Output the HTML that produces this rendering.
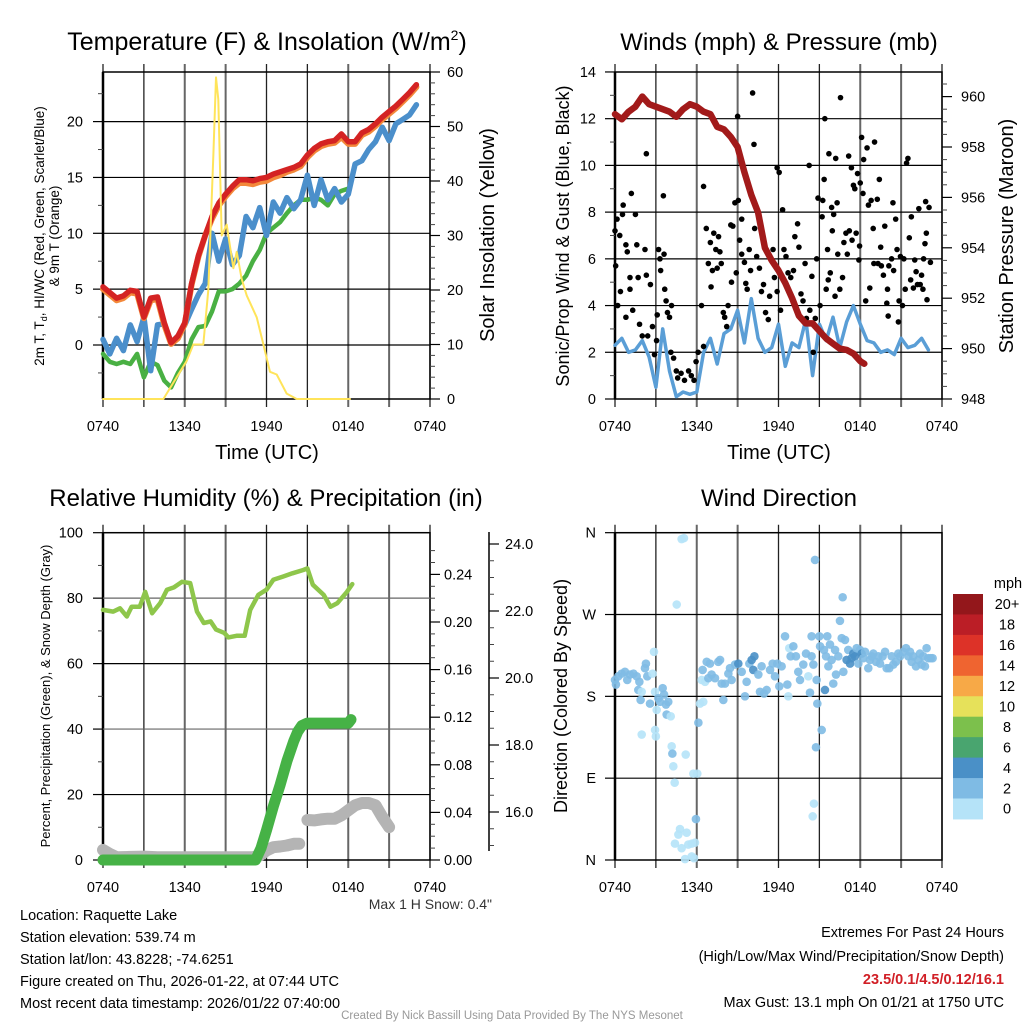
<!DOCTYPE html>
<html><head><meta charset="utf-8"><style>
html,body{margin:0;padding:0;background:#fff;}
svg{display:block;font-family:"Liberation Sans",sans-serif;}
</style></head><body>
<svg id="chart" width="1024" height="1024" viewBox="0 0 1024 1024">
<rect x="0" y="0" width="1024" height="1024" fill="#fff"/>
<text x="267" y="50" font-size="25" text-anchor="middle">Temperature (F) &amp; Insolation (W/m<tspan font-size="14" dy="-10">2</tspan><tspan dy="10">)</tspan></text>
<text x="779" y="50" font-size="24" text-anchor="middle">Winds (mph) &amp; Pressure (mb)</text>
<text x="266" y="506" font-size="24" text-anchor="middle">Relative Humidity (%) &amp; Precipitation (in)</text>
<text x="779" y="506" font-size="24" text-anchor="middle">Wind Direction</text>
<text x="267" y="459" font-size="20" text-anchor="middle">Time (UTC)</text>
<text x="779" y="459" font-size="20" text-anchor="middle">Time (UTC)</text>
<text transform="translate(44,236) rotate(-90)" font-size="13.5" text-anchor="middle">2m T, T<tspan font-size="9" dy="3">d</tspan><tspan dy="-3">, HI/WC (Red, Green, Scarlet/Blue)</tspan></text>
<text transform="translate(59,236) rotate(-90)" font-size="13.5" text-anchor="middle">&amp; 9m T (Orange)</text>
<text transform="translate(494,235) rotate(-90)" font-size="20" text-anchor="middle">Solar Insolation (Yellow)</text>
<text transform="translate(569,236) rotate(-90)" font-size="18" text-anchor="middle">Sonic/Prop Wind &amp; Gust (Blue, Black)</text>
<text transform="translate(1013,236) rotate(-90)" font-size="20" text-anchor="middle">Station Pressure (Maroon)</text>
<text transform="translate(50,696) rotate(-90)" font-size="13" text-anchor="middle">Percent, Precipitation (Green), &amp; Snow Depth (Gray)</text>
<text transform="translate(567,696) rotate(-90)" font-size="18" text-anchor="middle">Direction (Colored By Speed)</text>
<text x="492" y="909" font-size="14" text-anchor="end" fill="#333">Max 1 H Snow: 0.4"</text>
<g font-size="14.5">
<text x="20" y="920">Location: Raquette Lake</text>
<text x="20" y="942">Station elevation: 539.74 m</text>
<text x="20" y="964">Station lat/lon: 43.8228; -74.6251</text>
<text x="20" y="986">Figure created on Thu, 2026-01-22, at 07:44 UTC</text>
<text x="20" y="1008">Most recent data timestamp: 2026/01/22 07:40:00</text>
</g>
<g font-size="14.5" text-anchor="end">
<text x="1004" y="937">Extremes For Past 24 Hours</text>
<text x="1004" y="961">(High/Low/Max Wind/Precipitation/Snow Depth)</text>
<text x="1004" y="984" fill="#d11f26" font-weight="bold">23.5/0.1/4.5/0.12/16.1</text>
<text x="1004" y="1007">Max Gust: 13.1 mph On 01/21 at 1750 UTC</text>
</g>
<text x="512" y="1019" font-size="11.5" text-anchor="middle" fill="#999">Created By Nick Bassill Using Data Provided By The NYS Mesonet</text>
</svg>
<script>
// ---------- data ----------
const timeTickHours = [0, 6, 12, 18, 24];
const timeTickLabels = ['0740', '1340', '1940', '0140', '0740'];
const gridHours = [0, 3, 6, 9, 12, 15, 18, 21, 24];
const halfHours = [0,0.5,1,1.5,2,2.5,3,3.5,4,4.5,5,5.5,6,6.5,7,7.5,8,8.5,9,9.5,10,10.5,11,11.5,12,12.5,13,13.5,14,14.5,15,15.5,16,16.5,17,17.5,18,18.5,19,19.5,20,20.5,21,21.5,22,22.5,23];
const tempRed = [5.2,4.7,4.2,4.4,4.9,4.8,2.5,4.2,4.3,2.0,0.2,0.8,2.0,5.5,8.0,9.8,11.5,12.7,13.5,14.2,14.8,14.8,14.7,14.9,15.0,15.3,15.5,15.7,15.9,16.2,17.0,17.6,18.0,18.2,18.3,18.9,18.2,18.2,19.0,19.3,19.8,20.4,20.9,21.4,22.0,22.6,23.3];
const temp9mOrange = [5.0,4.5,4.0,4.2,4.7,4.6,2.4,4.0,4.1,1.8,0.1,0.6,1.9,5.4,7.9,9.8,11.3,12.5,13.3,14.0,14.5,14.5,14.4,14.6,14.7,15.0,15.2,15.5,15.7,16.0,16.8,17.4,17.8,18.0,18.1,18.6,18.0,18.0,18.8,19.1,19.6,20.2,20.7,21.2,21.8,22.4,23.1];
const windChillBlue = [0.5,-0.8,0.6,-0.5,1.8,0.3,2.5,-2.3,1.8,1.9,0.2,0.8,1.8,3.2,4.5,5.5,10.0,7.5,9.5,7.2,8.0,11.5,10.5,12.3,9.8,12.8,11.8,13.2,12.2,13.0,15.2,12.5,14.8,13.0,14.0,12.8,13.5,16.2,16.5,17.5,18.2,19.5,18.3,19.8,20.2,20.6,21.5];
const dewGreen = [-0.8,-1.5,-1.7,-1.5,-1.7,-0.8,-2.9,-1.5,-1.8,-3.2,-3.8,-2.5,-1.5,0.5,1.6,1.7,3.0,4.8,4.8,5.0,5.5,6.2,7.5,8.5,10.0,10.5,11.0,11.8,12.5,13.0,13.0,13.2,13.0,12.5,13.5,13.8,14.0,null,null,null,null,null,null,null,null,null,null];
const solarHours = [0,4.43,4.92,5.65,6.14,6.63,7.36,7.73,8.10,8.29,8.46,8.71,9.08,9.32,9.57,9.81,10.18,10.55,11.28,11.77,12.26,12.75,13.48,14.22,18.13];
const solarVals = [0,0,2,5,7,10,10,20,45,59,55,30,32,28,24,27,22,19,15,10,5,4.5,1,0,0];

const pressureHours = [0,0.5,1,1.5,2,2.5,3,3.5,4,4.5,5,5.5,6,6.5,7,7.5,8,8.5,9,9.5,10,10.5,11,11.5,12,12.5,13,13.5,14,14.5,15,15.5,16,16.5,17,17.5,18,18.3];
const pressureVals = [959.3,959.1,959.4,959.6,960.0,959.7,959.6,959.5,959.4,959.2,959.5,959.7,959.6,959.4,959.3,958.8,958.7,958.4,958.0,957.0,956.1,955.4,954.0,953.5,953.1,952.6,952.0,951.3,951.0,951.0,950.7,950.4,950.2,950.0,949.95,949.8,949.5,949.4];
const windVals = [2.3,2.6,2.0,2.1,2.5,1.8,0.5,3.0,1.2,0.1,0.3,0.2,0.3,2.0,2.6,1.5,2.8,3.0,3.8,2.4,4.3,2.6,2.0,2.2,3.2,1.4,2.4,2.2,3.4,1.0,3.2,2.5,3.5,2.2,3.3,4.0,3.2,2.5,2.4,2.0,2.1,1.9,2.6,2.2,2.3,2.6,2.1];
const gustHours = [0,0.05,0.15,0.2,0.35,0.4,0.6,0.55,0.8,0.9,0.8,1.2,1.1,1.1,1.3,1.5,1.6,1.7,1.8,2.0,2.2,2.3,2.3,2.4,2.6,2.75,2.9,3.05,3.1,3.2,3.3,3.35,3.55,3.6,3.65,3.75,3.85,4.0,4.15,4.1,4.3,4.5,4.6,4.85,5.1,5.4,5.6,5.8,5.95,6.1,6.35,6.5,6.5,6.7,6.85,7.0,7.05,7.15,7.25,7.4,7.5,7.6,7.7,7.8,7.95,8.05,8.2,8.3,8.5,8.55,8.65,8.8,8.9,9.0,9.05,9.15,9.3,9.3,9.5,9.6,9.7,9.85,9.95,10.1,10.2,10.25,10.4,10.6,10.75,10.9,11.05,11.25,11.35,11.6,11.7,11.9,12.05,11.9,12.15,12.3,12.4,12.55,12.7,12.9,13.1,13.2,13.4,13.5,13.65,13.8,13.95,14.05,14.25,14.3,14.45,14.55,14.7,14.8,14.9,15.05,15.2,15.25,15.35,15.4,15.5,15.6,15.65,15.7,15.8,15.9,15.95,16.05,16.15,16.2,16.3,16.35,16.5,16.55,16.7,16.8,16.95,17.05,17.15,17.2,17.35,17.4,17.5,17.6,17.7,17.8,17.9,17.95,18.0,18.1,18.2,18.25,18.4,18.5,18.6,18.7,18.8,18.95,19.0,19.05,19.25,19.3,19.4,19.5,19.55,19.7,19.8,19.95,20.0,20.05,20.1,20.3,20.4,20.45,20.6,20.7,20.8,20.85,20.95,21.1,21.2,21.3,21.4,21.5,21.6,21.7,21.75,21.9,22.0,22.1,22.2,22.3,22.4,22.5,22.6,22.65,22.75,22.8,22.85,22.9,23.05,23.15];
const gustVals = [7.2,5.7,7.7,4.0,7.0,4.6,8.3,7.9,6.6,6.3,3.5,8.8,5.2,4.7,3.8,7.9,6.6,5.2,3.2,2.7,6.4,10.5,5.3,2.7,4.9,3.1,1.9,2.5,3.6,6.4,6.0,5.5,8.7,6.2,4.7,4.2,3.7,3.5,4.0,2.0,1.75,1.2,0.9,1.1,0.8,1.2,1.0,0.8,1.6,2.0,4.0,9.1,2.25,7.3,5.8,6.7,4.8,5.5,7.1,6.4,5.6,6.95,6.3,5.8,3.7,3.5,3.1,4.0,7.45,5.0,7.4,8.4,5.4,12.1,8.5,6.8,7.7,6.2,5.85,4.95,4.7,6.4,5.5,13.1,10.9,7.3,6.1,5.6,4.6,4.9,3.7,3.4,4.4,6.4,5.2,9.9,9.7,4.6,3.8,8.1,6.4,6.1,5.4,5.2,5.5,6.95,7.5,6.5,4.5,4.2,5.8,3.45,10.0,3.8,5.25,2.0,3.45,6.0,8.6,4.0,7.8,8.5,9.4,12.0,4.7,6.4,5.1,10.5,5.4,8.2,7.2,7.9,4.4,10.3,8.4,6.2,4.7,12.9,5.2,6.7,7.1,6.2,10.4,7.2,9.9,6.8,9.15,9.0,7.1,9.65,5.95,6.55,9.25,11.2,8.8,10.25,4.2,10.75,8.3,4.75,8.5,7.3,5.8,11.0,8.55,5.8,9.4,6.5,5.7,5.3,7.4,4.1,4.7,3.55,5.7,6.0,8.4,5.5,7.7,6.4,3.3,4.2,6.1,4.0,6.0,4.7,10.1,10.3,6.9,5.1,7.8,4.75,5.95,5.45,4.9,8.15,4.9,5.3,4.7,6.0,6.65,8.45,7.1,4.25,8.2,5.85];

const rhHours = [0,0.75,1.25,1.75,2.1,2.7,3.1,3.6,4.2,4.7,5.2,5.8,6.4,6.9,7.4,7.9,8.3,8.9,9.2,9.8,10.4,10.8,11.4,12,12.5,13.2,13.9,14.7,15,15.4,16.2,16.7,17.2,17.9,18.3];
const rhVals = [76.4,75.9,76.9,74.4,77.4,77.4,81.9,75.4,78.5,82.6,83.3,85.0,84.6,75.9,72.4,72.9,70.4,69.4,68.0,68.5,68.5,76.4,81.0,82.6,85.6,86.6,87.6,88.6,89.1,84.1,81.0,77.4,78.5,81.9,84.3];
const precipHours = [0,11.2,11.6,12,12.5,13,13.5,14,14.3,14.6,15,16,17,18,18.2];
const precipVals = [0,0,0.01,0.025,0.045,0.063,0.083,0.1,0.108,0.113,0.115,0.115,0.115,0.115,0.118];
const snowHours = [0,0.5,1,2,3,4,5,6,7,8,9,10,11,11.5,12,12.5,13,13.5,14,14.4,14.7,15,15.5,16,16.5,17,17.5,18,18.5,19,19.5,20,20.5,21];
const snowVals = [14.87,14.75,14.65,14.66,14.67,14.65,14.65,14.65,14.65,14.65,14.65,14.65,14.65,14.7,14.85,14.95,14.97,15.0,15.05,15.05,null,15.76,15.75,15.78,15.8,15.8,15.9,16.05,16.2,16.27,16.27,16.2,15.85,15.55];

const dirHours = [0.0,0.07,0.24,0.49,0.73,0.90,1.10,1.35,1.59,1.79,1.71,1.96,1.88,2.20,2.27,2.37,2.57,2.76,2.86,2.94,3.06,3.18,3.30,3.50,3.60,3.74,3.91,3.79,4.09,1.96,2.94,3.00,4.16,4.21,4.28,4.38,4.53,4.89,5.06,5.19,5.75,6.04,5.94,4.77,4.65,4.40,4.89,5.26,5.38,5.63,5.87,5.14,5.63,5.80,6.12,6.24,6.48,6.36,6.61,6.43,6.73,6.85,6.97,7.09,7.34,7.58,7.71,7.83,7.95,8.07,8.32,8.44,8.56,8.81,9.05,9.30,9.54,9.66,9.86,10.03,10.23,10.15,10.52,10.64,10.76,10.94,11.13,11.38,11.57,11.74,11.91,12.06,12.23,12.48,12.65,12.72,12.79,12.89,13.09,13.28,13.45,13.58,13.82,14.02,14.19,14.31,14.43,14.43,14.56,14.68,14.60,14.51,14.80,14.85,15.00,15.05,15.17,14.75,15.34,15.41,15.49,15.58,15.66,15.78,15.90,16.02,16.15,16.22,16.39,16.51,16.64,16.71,16.76,16.88,17.00,17.12,17.25,17.37,17.49,17.61,17.74,17.86,17.98,18.10,18.23,18.35,18.59,18.71,18.84,18.96,19.16,19.33,19.45,19.64,19.82,19.94,20.13,20.31,20.43,20.62,20.79,20.92,21.16,21.36,21.53,21.65,21.77,21.89,22.09,22.26,22.38,22.51,22.63,22.75,22.87,22.99,23.17,23.31];
const dirDegrees = [198,193,202,205,207,198,204,205,202,196,187,185,176,211,216,202,172,205,229,185,165,178,174,189,182,171,174,160,158,138,143,136,125,117,103,85,281,353,354,116,95,95,45,34,28,18,13,30,17,18,19,1,4,2,151,172,174,198,196,209,218,200,216,204,200,218,220,194,176,194,205,211,198,215,216,207,180,196,216,220,224,209,204,185,213,183,187,209,216,202,216,191,213,246,193,180,233,224,235,224,207,198,215,227,202,184,246,224,215,330,62,48,198,172,246,235,143,124,231,187,224,246,213,237,220,194,231,204,224,263,244,289,207,242,220,231,216,222,227,224,233,216,231,227,222,229,211,220,224,227,218,224,216,224,229,211,211,224,215,218,227,224,229,233,224,229,218,224,213,220,227,215,224,213,233,222,222,222];
const dirSpeeds = [3,3,3,3,3,3,3,3,3,3,3,1,3,3,3,3,3,1,1,1,1,3,3,3,3,3,3,3.5,1,1,1,1,1,3,1,1,1,1,1,1,1,1,3,1,1,1,1,1,1,1,1,1,1,1,3,1,1,1,1,3,3,3,3,3,3,3,3,3,3,3,3,3,3,3,4.5,3,3,3,3,4.5,4.5,4.5,3,3,3,3,3,3,3,3,3,3,3,3,3,1,1,3,3,3,3,3,3,3,1,3,3,3,3,3,1,1,3,3,3,3,3,3,3,4.5,3,3,3,3,3,3,3,3,3,3,3,3,3,3,4.5,3,4.5,4.5,4.5,4.5,3,3,3,4.5,3,3,3,3,3,3,3,3,3,3,3,3,3,3,3,3,3,3,3,3,3,3,3,3,3,3,3,3,3,3,3,3,3,3,3];
const speedBinLabels = ['20+','18','16','14','12','10','8','6','4','2','0'];
const speedBinColors = ['#93171b','#bb1e26','#dd3228','#ef6430','#f7a947','#e6e15a','#7cc04c','#49a56f','#4a90c7','#7fbbe4','#b5e3f8'];

// ---------- helpers ----------
const NS = 'http://www.w3.org/2000/svg';
const svg = document.getElementById('chart');
function mk(tag, attrs, parent) {
  const e = document.createElementNS(NS, tag);
  for (const k in attrs) e.setAttribute(k, attrs[k]);
  (parent || svg).appendChild(e);
  return e;
}
function linePath(xs, ys, fx, fy) {
  let d = '', pen = false;
  for (let i = 0; i < xs.length; i++) {
    if (ys[i] === null || ys[i] === undefined) { pen = false; continue; }
    d += (pen ? 'L' : 'M') + fx(xs[i]).toFixed(1) + ',' + fy(ys[i]).toFixed(1);
    pen = true;
  }
  return d;
}
function xScaleFor(p) { return h => p.x0 + h * (p.x1 - p.x0) / 24; }

const P1 = {x0:103, x1:430, y0:72, y1:399};
const P2 = {x0:615, x1:942, y0:72, y1:399};
const P3 = {x0:103, x1:430, y0:532.7, y1:860};
const P4 = {x0:615, x1:942, y0:532.7, y1:860};
const yTemp = v => 345 - v * 11.17;
const ySolar = v => 399 - v * 5.45;
const yWind = v => 399 - v * 23.36;
const yPres = p => 399 - (p - 948) * 25.2;
const yRH = v => 860 - v * 3.273;
const yPrecip = v => 860 - v * 1190;
const ySnow = v => 812 - (v - 16) * 33.5;
const yDir = d => 860 - d * 0.9092;

function frame(p, pname) {
  const g = mk('g', {});
  
  
  const xs = xScaleFor(p);
  for (let i = 0; i < gridHours.length; i++) {
    const x = xs(gridHours[i]);
    const gray = (i % 4 === 2 || i % 4 === 3);
    const ln = mk('line', {x1:x, x2:x, y1:p.y0 - 8, y2:p.y1 + 8, stroke:(gray ? '#666' : '#222'), 'stroke-width':(gray ? 2 : 1.3)}, g);
    
    
  }
  const b = mk('rect', {x:p.x0, y:p.y0, width:p.x1 - p.x0, height:p.y1 - p.y0, fill:'none', stroke:'#000', 'stroke-width':1.5}, g);
  
  
  for (let i = 0; i < timeTickHours.length; i++) {
    const t = mk('text', {x:xs(timeTickHours[i]), y:p.y1 + 32, 'font-size':14.5, 'text-anchor':'middle'}, g);
    t.textContent = timeTickLabels[i];
    
    
  }
  const lft = mk('line', {x1:p.x0, x2:p.x0, y1:p.y0, y2:p.y1, stroke:'#000', 'stroke-width':2.5}, g);
  
  
  return g;
}
function hGrid(p, vals, fy, pname, color) {
  for (const v of vals) {
    const y = fy(v);
    const l = mk('line', {x1:p.x0, x2:p.x1, y1:y, y2:y, stroke:color || '#000', 'stroke-width':1.2});
    
    
  }
}
function yAxis(x, side, majors, labels, minors, fy, pname, labelOffset, fs) {
  const dir = side === 'left' ? -1 : 1;
  for (let i = 0; i < majors.length; i++) {
    const y = fy(majors[i]);
    const tk = mk('line', {x1:x, x2:x + dir * 10, y1:y, y2:y, stroke:'#000', 'stroke-width':1.2});
    
    
    const t = mk('text', {x:x + dir * labelOffset, y:y + 5, 'font-size':fs || 14.5, 'text-anchor':(side === 'left' ? 'end' : 'start')});
    t.textContent = labels[i];
    
    
  }
  for (const m of minors) {
    const y = fy(m);
    const tk = mk('line', {x1:x, x2:x + dir * 5, y1:y, y2:y, stroke:'#444', 'stroke-width':1});
    
    
  }
}
function series(p, xs, ys, fy, color, width, name) {
  const fx = xScaleFor(p);
  const path = mk('path', {d:linePath(xs, ys, fx, fy), fill:'none', stroke:color, 'stroke-width':width, 'stroke-linejoin':'round', 'stroke-linecap':'round'});
  
  
  return path;
}

// ---------- Panel 1: temperature ----------
frame(P1, 'temperature-panel');
hGrid(P1, [0,5,10,15,20], yTemp, 'temperature-panel');
yAxis(P1.x0, 'left', [0,5,10,15,20], ['0','5','10','15','20'], [-2.5,2.5,7.5,12.5,17.5,22.5], yTemp, 'temperature-left-axis', 20);
yAxis(P1.x1, 'right', [0,10,20,30,40,50,60], ['0','10','20','30','40','50','60'], [2,4,6,8,12,14,16,18,22,24,26,28,32,34,36,38,42,44,46,48,52,54,56,58], ySolar, 'solar-right-axis', 17);
series(P1, halfHours, dewGreen, yTemp, '#49b043', 4.5, 'dewpoint-line');
series(P1, halfHours, windChillBlue, yTemp, '#4b8fcb', 5.5, 'wind-chill-line');
series(P1, halfHours, temp9mOrange, yTemp, '#f3883a', 6, '9m-temperature-line');
series(P1, halfHours, tempRed, yTemp, '#d42323', 5.5, '2m-temperature-line');
series(P1, solarHours, solarVals, ySolar, '#ffe45a', 2, 'solar-insolation-line');

// ---------- Panel 2: winds ----------
frame(P2, 'winds-panel');
hGrid(P2, [2,4,6,8,10,12], yWind, 'winds-panel');
yAxis(P2.x0, 'left', [0,2,4,6,8,10,12,14], ['0','2','4','6','8','10','12','14'], [1,3,5,7,9,11,13], yWind, 'wind-left-axis', 19);
yAxis(P2.x1, 'right', [948,950,952,954,956,958,960], ['948','950','952','954','956','958','960'], [948.5,949,949.5,950.5,951,951.5,952.5,953,953.5,954.5,955,955.5,956.5,957,957.5,958.5,959,959.5,960.5], yPres, 'pressure-right-axis', 19);
series(P2, halfHours, windVals, yWind, '#5a9ed6', 3.5, 'sustained-wind-line');
{
  const fx = xScaleFor(P2);
  const g = mk('g', {});
  
  
  for (let i = 0; i < gustHours.length; i++) {
    const c = mk('circle', {cx:fx(gustHours[i]), cy:yWind(gustVals[i]), r:2.8, fill:'#000'}, g);
    
    
  }
}
series(P2, pressureHours, pressureVals, yPres, '#a21a1a', 6.5, 'pressure-line');

// ---------- Panel 3: humidity ----------
frame(P3, 'humidity-panel');
hGrid(P3, [20,60], yRH, 'humidity-panel', '#000');
hGrid(P3, [40,80], yRH, 'humidity-panel', '#666');
yAxis(P3.x0, 'left', [0,20,40,60,80,100], ['0','20','40','60','80','100'], [10,30,50,70,90], yRH, 'humidity-left-axis', 20);
yAxis(P3.x1, 'right', [0,0.04,0.08,0.12,0.16,0.20,0.24], ['0.00','0.04','0.08','0.12','0.16','0.20','0.24'], [0.01,0.02,0.03,0.05,0.06,0.07,0.09,0.10,0.11,0.13,0.14,0.15,0.17,0.18,0.19,0.21,0.22,0.23,0.25,0.26], yPrecip, 'precip-right-axis', 14);
{
  const ax = mk('line', {x1:489, x2:489, y1:532, y2:851, stroke:'#000', 'stroke-width':1.5});
  
  
}
yAxis(489, 'right', [16,18,20,22,24], ['16.0','18.0','20.0','22.0','24.0'], [15,15.5,16.5,17,17.5,18.5,19,19.5,20.5,21,21.5,22.5,23,23.5], ySnow, 'snow-depth-axis', 16);
series(P3, snowHours, snowVals, ySnow, '#b4b4b4', 12, 'snow-depth-line');
series(P3, precipHours, precipVals, yPrecip, '#46b246', 11, 'precipitation-line');
series(P3, rhHours, rhVals, yRH, '#8ec64b', 4.5, 'relative-humidity-line');

// ---------- Panel 4: wind direction ----------
frame(P4, 'direction-panel');
hGrid(P4, [90,180,270], yDir, 'direction-panel');
yAxis(P4.x0, 'left', [0,90,180,270,360], ['N','E','S','W','N'], [], yDir, 'direction-left-axis', 19);
function speedColor(s) {
  let bin = Math.min(10, Math.floor(s / 2));
  return speedBinColors[10 - bin];
}
{
  const fx = xScaleFor(P4);
  const g = mk('g', {});
  
  
  for (let i = 0; i < dirHours.length; i++) {
    const c = mk('circle', {cx:fx(dirHours[i]), cy:yDir(dirDegrees[i]), r:4.3, fill:speedColor(dirSpeeds[i]), 'fill-opacity':0.9}, g);
    
    
  }
}
{
  const g = mk('g', {});
  
  
  const top = 594, bh = 20.45;
  const u = mk('text', {x:1008, y:588, 'font-size':14.5, 'text-anchor':'middle'}, g);
  u.textContent = 'mph';
  
  
  for (let i = 0; i < speedBinLabels.length; i++) {
    const r = mk('rect', {x:953, y:top + i * bh, width:30, height:bh + 0.5, fill:speedBinColors[i]}, g);
    
    
    const t = mk('text', {x:1007, y:top + i * bh + bh / 2 + 5, 'font-size':14.5, 'text-anchor':'middle'}, g);
    t.textContent = speedBinLabels[i];
    
    
  }
}
</script>
</body></html>
